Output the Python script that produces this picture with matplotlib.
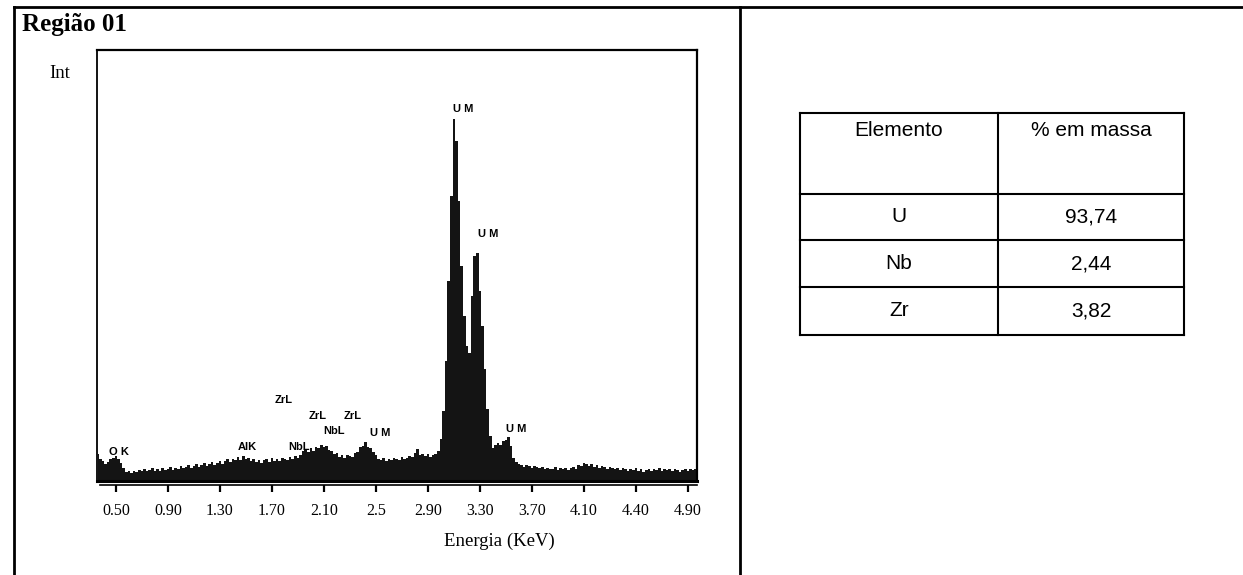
import numpy as np
import matplotlib
matplotlib.use('Agg')
import matplotlib.pyplot as plt

plt.rcParams['font.family'] = ['Liberation Serif', 'DejaVu Serif']

# EDS spectrum, counts per channel from 0.36 keV in 0.02 keV steps
counts = [
    27, 22, 20, 17, 19, 22, 23, 25, 22, 18,          # 0.36
    13, 9, 10, 8, 10, 9, 11, 10, 12, 10,             # 0.56
    11, 13, 10, 12, 10, 13, 11, 12, 14, 11,          # 0.76
    13, 12, 15, 13, 14, 16, 13, 15, 17, 14,          # 0.96
    16, 18, 15, 17, 19, 16, 18, 20, 17, 20,          # 1.16
    22, 19, 22, 21, 24, 21, 25, 22, 23, 20,          # 1.36
    22, 19, 21, 18, 21, 22, 19, 23, 20, 22,          # 1.56
    20, 23, 22, 21, 24, 22, 25, 23, 26, 30,          # 1.76
    31, 29, 33, 30, 34, 33, 36, 34, 35, 31,          # 1.96
    30, 27, 28, 24, 26, 23, 26, 25, 24, 28,          # 2.16
    29, 34, 35, 39, 34, 33, 29, 26, 22, 21,          # 2.36
    23, 20, 22, 21, 23, 22, 21, 24, 22, 23,          # 2.56
    25, 24, 28, 32, 26, 27, 25, 27, 24, 26,          # 2.76
    27, 30, 42, 70, 120, 200, 285, 362, 340, 280,    # 2.96
    215, 165, 135, 128, 185, 225, 228, 190, 155, 112,  # 3.16
    72, 45, 33, 36, 38, 36, 40, 41, 44, 35,          # 3.36
    23, 19, 17, 16, 14, 16, 15, 13, 15, 14,          # 3.56
    13, 14, 12, 13, 12, 12, 14, 11, 13, 12,          # 3.76
    13, 11, 13, 14, 12, 16, 15, 18, 17, 15,          # 3.96
    17, 14, 16, 13, 15, 14, 12, 14, 13, 12,          # 4.16
    13, 11, 13, 12, 10, 12, 11, 13, 10, 12,          # 4.36
    9, 11, 12, 10, 12, 11, 13, 10, 12, 11,           # 4.56
    12, 10, 12, 11, 9, 11, 12, 10, 12, 11, 12,       # 4.76
]
energy = 0.36 + 0.02 * np.arange(len(counts))

tick_pos = [0.5, 0.9, 1.3, 1.7, 2.1, 2.5, 2.9, 3.3, 3.7, 4.1, 4.5, 4.9]
tick_labels = ['0.50', '0.90', '1.30', '1.70', '2.10', '2.5',
               '2.90', '3.30', '3.70', '4.10', '4.40', '4.90']

peak_names = ['O K', 'AlK', 'NbL', 'ZrL', 'ZrL', 'ZrL', 'NbL', 'U M', 'U M', 'U M', 'U M']
peak_x = [0.52, 1.51, 1.91, 1.79, 2.05, 2.32, 2.18, 2.53, 3.17, 3.36, 3.58]
peak_y = [29, 34, 34, 81, 65, 65, 50, 48, 372, 247, 52]

elements = ['U', 'Nb', 'Zr']
mass_pct = ['93,74', '2,44', '3,82']

W, H = 1243, 575
fig = plt.figure(figsize=(W / 100, H / 100), dpi=100)

# page frame + table drawn in pixel coords
bg = fig.add_axes([0, 0, 1, 1], zorder=0)
bg.set_xlim(0, W)
bg.set_ylim(H, 0)
bg.axis('off')
bg.plot([14, W], [7, 7], color='k', lw=2)
bg.plot([14, 14], [7, H], color='k', lw=2)
bg.plot([740, 740], [7, H], color='k', lw=2)

tx0, tx1, tcol = 800, 1184, 998
rows_y = [113, 194, 240, 287, 335]
for y in rows_y:
    bg.plot([tx0, tx1], [y, y], color='k', lw=1.5)
for x in [tx0, tcol, tx1]:
    bg.plot([x, x], [rows_y[0], rows_y[-1]], color='k', lw=1.5)
sans = ['Liberation Sans', 'DejaVu Sans']
bg.text((tx0 + tcol) / 2, 131, 'Elemento', family=sans, fontsize=15, ha='center', va='center')
bg.text((tcol + tx1) / 2, 131, '% em massa', family=sans, fontsize=15, ha='center', va='center')
for i, (el, val) in enumerate(zip(elements, mass_pct)):
    yc = (rows_y[i + 1] + rows_y[i + 2]) / 2
    bg.text((tx0 + tcol) / 2, yc, el, family=sans, fontsize=15, ha='center', va='center')
    bg.text((tcol + tx1) / 2, yc, val, family=sans, fontsize=15, ha='center', va='center')

bg.text(22, 25, 'Região 01', fontsize=18, fontweight='bold', ha='left', va='center')
bg.text(60, 74, 'Int', fontsize=13.5, ha='center', va='center')
bg.text(499, 541, 'Energia (KeV)', fontsize=13.5, ha='center', va='center')

# spectrum
ax = fig.add_axes([97 / W, 1 - 481 / H, 600 / W, 431 / H], zorder=1)
ax.patch.set_alpha(0)
ax.fill_between(energy, counts, step='mid', color='#141414', lw=0)
ax.axhline(0, color='k', lw=2.2, clip_on=False)
ax.set_xlim(0.354, 4.97)
ax.set_ylim(0, 431)

narrow = ['Liberation Sans Narrow', 'Liberation Sans', 'DejaVu Sans']
for name, x, y in zip(peak_names, peak_x, peak_y):
    ax.text(x, y, name, family=narrow, fontsize=8, fontweight='bold',
            ha='center', va='center')

for s in ['top', 'right']:
    ax.spines[s].set_linewidth(1.6)
ax.spines['left'].set_linewidth(1.3)
ax.spines['bottom'].set_position(('outward', 3))
ax.spines['bottom'].set_linewidth(1.2)
ax.spines['bottom'].set_bounds(0.38, 4.97)
ax.set_yticks([])
ax.set_xticks(tick_pos)
ax.set_xticklabels(tick_labels)
ax.tick_params(axis='x', direction='out', length=5, width=1.6, labelsize=11.5, pad=8)

fig.savefig('out.png', dpi=100)
